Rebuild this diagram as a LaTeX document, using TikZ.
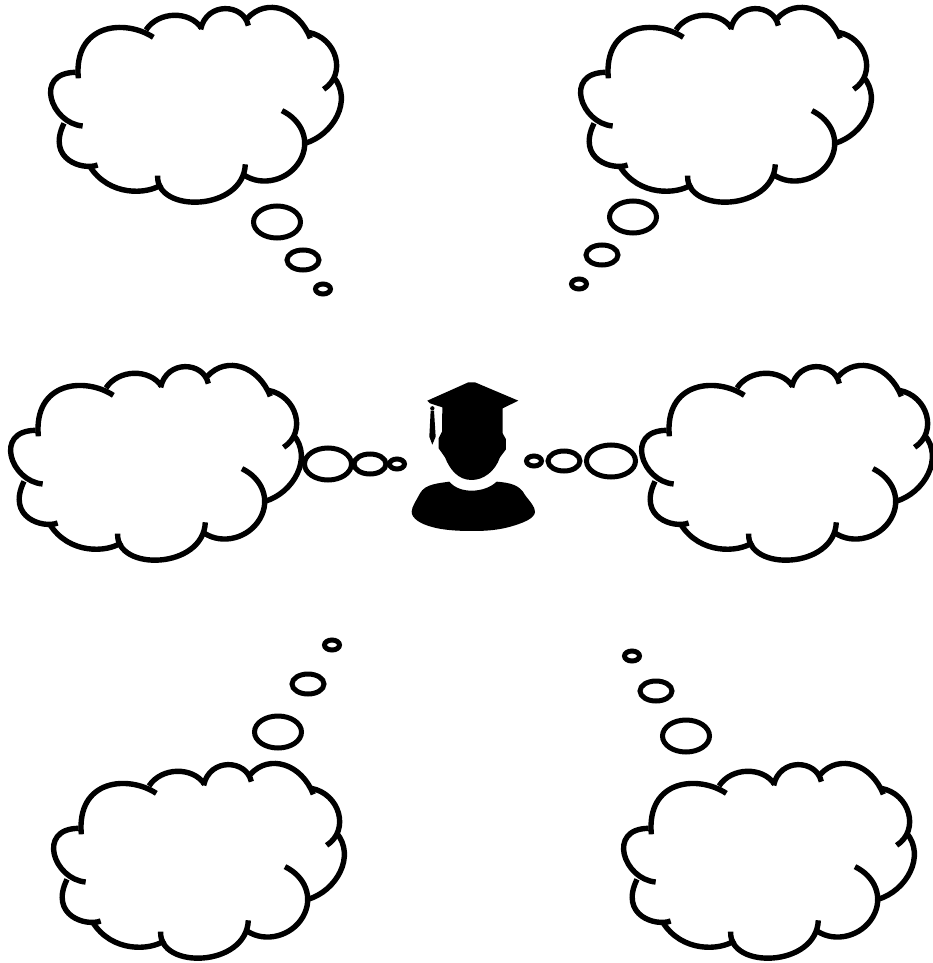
\documentclass[tikz,border=0pt]{standalone}
\usetikzlibrary{shapes.geometric}
\tikzset{
  arcline/.style={line width=5.4pt,black,line cap=butt},
  bubble/.style={ellipse,draw=black,line width=5pt,fill=white,inner sep=0pt,outer sep=0pt},
  solid black/.style={fill=black,draw=none}
}
\newcommand{\cloudat}[2]{%
\begin{scope}[shift={(#1,#2)},x=0.3333pt,y=-0.3333pt]
 \draw[arcline] (115,235) .. controls (100,70) and (255,56) .. (340,112);
 \draw[arcline] (318,90) .. controls (355,33) and (449,31) .. (485,85);
 \draw[arcline] (482,88) .. controls (500,4) and (611,10) .. (625,77);
 \draw[arcline] (622,55) .. controls (680,-8) and (776,24) .. (811,115);
 \draw[arcline] (805,97) .. controls (890,113) and (922,222) .. (851,268);
 \draw[arcline] (880,230) .. controls (940,300) and (880,405) .. (795,430);
 \draw[arcline] (726,332) .. controls (786,361) and (813,424) .. (780,482) .. controls (747,540) and (668,562) .. (612,525);
 \draw[arcline] (616,493) .. controls (610,635) and (347,641) .. (353,527);
 \draw[arcline] (366,553) .. controls (320,585) and (207,589) .. (150,500);
 \draw[arcline] (173,495) .. controls (130,512) and (18,480) .. (72,370);
 \draw[arcline] (128,378) .. controls (32,370) and (-20,218) .. (107,217);
\end{scope}}
\begin{document}
\begin{tikzpicture}[x=1pt,y=-1pt]
\useasboundingbox (0,0) rectangle (933,963);
\cloudat{40}{0}
\cloudat{570}{0}
\cloudat{0}{358}
\cloudat{631}{358}
\cloudat{43}{756}
\cloudat{613}{756}
% thought bubbles
\foreach \n/\px/\py/\w/\h in {
 a1/277/222/47/32, a2/303/260/32/20, a3/323/289/15/10,
 b1/633/217/47/32, b2/602/255/32/20, b3/579/284/15/10,
 c1/328/464/47/32, c2/370/464/32/20, c3/397/464/15/10,
 d1/611/461/49/32, d2/564/461/32/20, d3/534/461/15/10,
 e1/278/732/47/32, e2/308/684/32/20, e3/332/645/15/10,
 f1/686/736/47/32, f2/656/691/32/20, f3/632/656/15/10}
 {\node[bubble,minimum width=\w pt,minimum height=\h pt] (\n) at (\px,\py) {};}
% person
\begin{scope}[shift={(400,370)},x=0.3333pt,y=-0.3333pt]
 \fill[solid black] (82,92) -- (205,37) to[out=-10,in=190] (225,37) -- (355,92) -- (308,115) -- (308,190) -- (318,208) -- (318,238) -- (300,262) .. controls (285,305) and (250,330) .. (215,330) .. controls (175,330) and (150,300) .. (135,262) -- (116,235) -- (116,205) -- (126,185) -- (127,112) -- (90,100) -- cycle;
 \fill[solid black] (97,115) circle (6.5);
 \fill[solid black] (92,122) -- (102,122) -- (107,200) -- (97,224) -- (88,200) -- cycle;
 \fill[solid black] (148,335) .. controls (165,355) and (190,362) .. (215,362) .. controls (245,362) and (272,352) .. (290,335) .. controls (330,338) and (360,345) .. (375,375) .. controls (390,395) and (405,410) .. (405,425) .. controls (405,445) and (370,460) .. (320,473) .. controls (280,482) and (250,483) .. (215,483) .. controls (170,483) and (130,480) .. (100,472) .. controls (60,462) and (35,445) .. (35,425) .. controls (35,410) and (50,390) .. (60,370) .. controls (75,342) and (115,340) .. (148,335) -- cycle;
\end{scope}
\end{tikzpicture}
\end{document}
